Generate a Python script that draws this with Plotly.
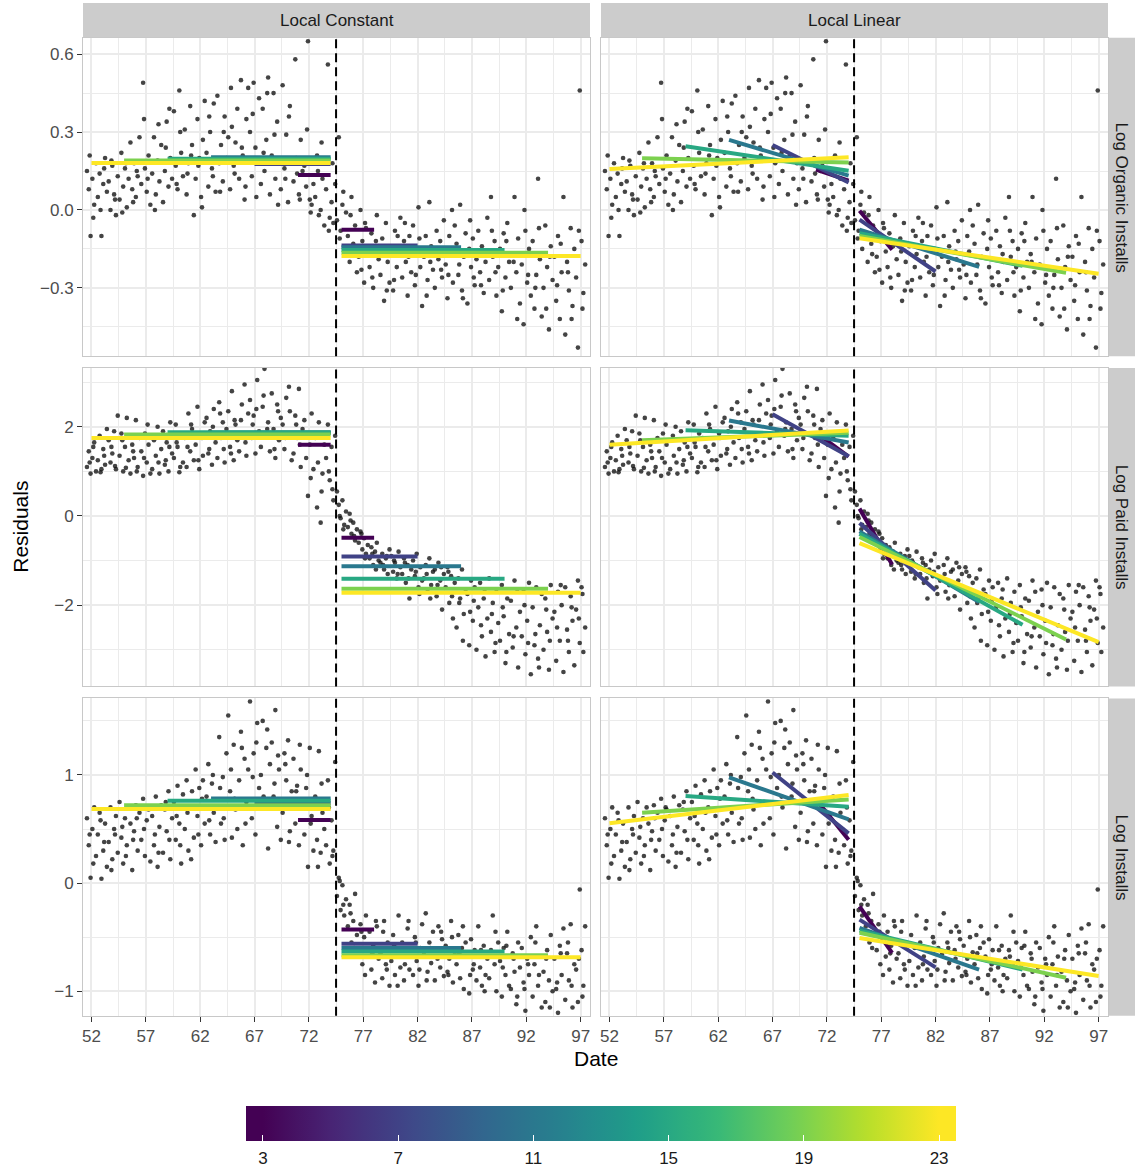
import numpy as np
import plotly.graph_objects as go
from plotly.colors import sample_colorscale

# ---------------- data ----------------
CUTOFF = 74.5
FIRST_DAY = 52
LAST_PRE_DAY = 74
FIRST_POST_DAY = 75
LAST_DAY = 97
DAYS = list(range(52, 98))
SLOTS_PER_DAY = 6          # main readings per day
EXTRA_OFFSETS = [1 / 3, 2 / 3]  # two additional readings per day
BANDWIDTHS = [3, 7, 11, 15, 19, 23]
CBAR_TICKS = [3, 7, 11, 15, 19, 23]

ROW_LABELS = ["Log Organic Installs", "Log Paid Installs", "Log Installs"]
COL_LABELS = ["Local Constant", "Local Linear"]

X_TICKS = [52, 57, 62, 67, 72, 77, 82, 87, 92, 97]
X_MINOR = [54.5, 59.5, 64.5, 69.5, 74.5, 79.5, 84.5, 89.5, 94.5]

ORG_TICKS = [-0.3, 0.0, 0.3, 0.6]
ORG_TICKTEXT = ["\u22120.3", "0.0", "0.3", "0.6"]
ORG_MINOR = [-0.45, -0.15, 0.15, 0.45]
PAID_TICKS = [-2, 0, 2]
PAID_TICKTEXT = ["\u22122", "0", "2"]
PAID_MINOR = [-3, -1, 1, 3]
INST_TICKS = [-1, 0, 1]
INST_TICKTEXT = ["\u22121", "0", "1"]
INST_MINOR = [-0.5, 0.5, 1.5]

# residuals, 6 readings per day (days 52..97)
ORGANIC = [
    0.15, 0.08, -0.10, 0.12, 0.02, 0.18,
    0.05, 0.14, -0.10, 0.10, 0.20, 0.07,
    0.11, 0.00, 0.17, 0.06, -0.02, 0.13,
    0.04, 0.22, 0.09, 0.16, 0.01, 0.12,
    0.26, 0.08, 0.18, 0.05, 0.13, 0.28,
    0.10, 0.49, 0.16, 0.07, 0.21, 0.02,
    0.14, 0.28, 0.06, 0.19, 0.11, 0.25,
    0.03, 0.15, 0.34, 0.09, 0.20, 0.12,
    0.38, 0.17, 0.08, 0.46, 0.22, 0.13,
    0.31, 0.06, 0.18, 0.40, 0.25, -0.02,
    0.12, 0.35, 0.20, 0.05, 0.27, 0.42,
    0.22, 0.09, 0.30, 0.16, 0.41, 0.07,
    0.44, 0.18, 0.25, 0.11, 0.36, 0.20,
    0.28, 0.08, 0.32, 0.17, 0.26, 0.39,
    0.12, 0.50, 0.21, 0.04, 0.35, 0.47,
    0.30, 0.13, 0.49, 0.24, 0.18, 0.43,
    0.10, 0.39, 0.15, 0.27, 0.51, 0.06,
    0.21, 0.45, 0.12, 0.34, 0.18, 0.08,
    0.48, 0.16, 0.29, 0.03, 0.40, 0.19,
    0.11, 0.58, 0.14, 0.06, 0.27, 0.15,
    0.17, 0.09, 0.65, 0.04, 0.02, 0.10,
    0.05, 0.21, -0.02, 0.00, 0.12, -0.06,
    0.08, 0.56, -0.03, 0.03, -0.05, 0.10,
    -0.04, 0.28, -0.08, 0.02, -0.15, -0.01,
    -0.10, -0.20, 0.05, -0.13, -0.06, -0.24,
    -0.18, 0.00, -0.12, -0.28, -0.07, -0.16,
    -0.22, -0.09, -0.30, -0.14, -0.02, -0.19,
    -0.25, -0.11, -0.35, -0.05, -0.20, -0.28,
    -0.14, -0.31, -0.08, -0.22, -0.17, -0.03,
    -0.26, -0.12, -0.20, -0.33, -0.10, -0.24,
    -0.06, -0.29, -0.15, 0.01, -0.22, -0.37,
    -0.18, -0.10, -0.27, 0.03, -0.14, -0.23,
    -0.30, -0.08, -0.19, -0.12, -0.26, -0.04,
    -0.21, -0.34, -0.10, -0.16, -0.28, -0.06,
    -0.13, -0.25, 0.02, -0.31, -0.18, -0.09,
    -0.36, -0.15, -0.22, -0.11, -0.29, -0.19,
    -0.08, -0.24, -0.14, -0.32, -0.20, -0.03,
    -0.27, 0.05, -0.18, -0.12, -0.33, -0.22,
    -0.15, -0.39, -0.09, -0.26, -0.05, -0.20,
    -0.30, -0.17, 0.05, -0.24, -0.11, -0.36,
    -0.21, -0.44, -0.08, -0.28, -0.15, -0.33,
    -0.12, -0.38, -0.25, 0.12, -0.19, -0.41,
    -0.30, -0.06, -0.22, -0.46, -0.14, -0.27,
    -0.18, -0.35, -0.10, -0.42, -0.24, 0.05,
    -0.48, -0.20, -0.31, -0.07, -0.37, -0.15,
    -0.26, -0.53, 0.46, -0.12, -0.32, -0.21,
]
ORGANIC_EXTRA = [
    0.21, -0.03, 0.00, 0.16, 0.19, 0.04, -0.01, 0.18, 0.03, 0.15,
    0.35, 0.12, 0.00, 0.33, 0.24, 0.39, 0.10, 0.30, 0.14, 0.21,
    0.17, 0.01, 0.36, 0.13, 0.07, 0.30, 0.47, 0.14, 0.24, 0.09,
    0.37, 0.05, 0.22, 0.45, 0.29, 0.02, 0.12, 0.36, 0.20, 0.04,
    0.31, -0.01, 0.15, 0.26, -0.08, 0.18,
    -0.11, 0.07, -0.02, -0.17, -0.23, -0.05, -0.26, -0.12, -0.16, -0.31,
    -0.27, -0.10, -0.05, -0.18, -0.25, -0.11, -0.33, -0.20, -0.16, -0.23,
    -0.25, 0.00, -0.21, -0.34, -0.04, -0.26, -0.29, -0.17, -0.08, -0.24,
    -0.31, -0.12, -0.20, -0.42, 0.00, -0.25, -0.30, -0.07, -0.38, -0.18,
    -0.29, -0.13, -0.24, -0.42, -0.08, -0.38,
]

PAID = [
    1.10, 1.45, 0.95, 1.30, 1.65, 1.00,
    1.25, 1.80, 1.05, 1.50, 1.15, 1.95,
    1.70, 1.20, 1.40, 1.90, 1.05, 2.25,
    1.35, 1.85, 1.00, 1.55, 2.20, 1.25,
    0.95, 1.60, 1.30, 2.15, 1.10, 1.75,
    1.45, 0.90, 1.85, 1.20, 1.60, 0.95,
    1.05, 1.70, 1.35, 2.00, 0.95, 1.50,
    1.90, 1.15, 1.65, 1.00, 2.10, 1.40,
    1.30, 2.05, 1.55, 0.98, 1.85, 1.20,
    1.75, 1.10, 2.30, 1.45, 1.95, 1.25,
    1.60, 2.45, 1.05, 1.85, 1.35, 2.10,
    2.20, 1.40, 1.90, 1.15, 2.40, 1.65,
    1.30, 2.55, 1.75, 2.10, 1.20, 1.95,
    2.35, 1.55, 2.80, 1.25, 2.05, 1.70,
    1.45, 2.15, 1.85, 2.95, 1.35, 2.30,
    2.60, 1.75, 2.25, 1.40, 3.05, 1.90,
    1.55, 2.45, 3.30, 1.80, 2.10, 1.45,
    2.75, 1.95, 1.30, 2.50, 1.70, 2.20,
    2.05, 1.50, 2.65, 1.85, 2.35, 1.25,
    1.40, 2.25, 1.75, 2.85, 1.10, 1.95,
    2.15, 1.30, 0.45, 1.60, 2.30, 1.05,
    1.75, 0.19, 2.10, -0.15, 0.95, 1.60,
    1.30, 2.05, 0.80, 1.55, 0.35, 1.80,
    0.55, 0.25, -0.05, 0.35, -0.20, 0.10,
    -0.25, 0.05, -0.40, -0.15, -0.55, -0.30,
    -0.60, -0.35, -0.75, -0.50, -0.85, -0.65,
    -0.95, -0.70, -1.10, -0.80, -0.60, -1.00,
    -1.05, -0.85, -1.20, -0.95, -1.30, -0.75,
    -0.90, -1.25, -1.05, -1.40, -0.80, -1.15,
    -1.30, -0.95, -1.50, -1.10, -1.85, -1.20,
    -1.00, -1.35, -0.85, -1.60, -1.15, -1.45,
    -1.40, -1.10, -1.70, -0.95, -1.55, -1.25,
    -1.20, -1.80, -1.05, -1.45, -2.10, -1.30,
    -1.60, -1.15, -1.95, -1.35, -2.30, -1.50,
    -2.50, -1.40, -1.85, -1.20, -2.20, -1.65,
    -1.75, -2.90, -1.45, -2.35, -1.60, -3.00,
    -2.05, -1.50, -2.70, -1.85, -3.15, -2.30,
    -1.40, -2.60, -1.95, -3.05, -1.70, -2.40,
    -2.80, -1.55, -2.25, -3.30, -1.85, -2.65,
    -1.90, -2.95, -1.45, -2.50, -3.40, -2.15,
    -2.70, -1.65, -3.10, -2.35, -1.50, -3.55,
    -2.05, -2.90, -1.60, -3.20, -2.45, -1.75,
    -3.00, -1.85, -2.60, -3.45, -1.55, -2.30,
    -2.15, -3.25, -1.70, -2.80, -2.00, -3.50,
    -1.60, -2.55, -3.05, -1.80, -2.35, -3.35,
    -2.10, -1.45, -2.85, -1.60, -3.05, -2.50,
]
PAID_EXTRA = [
    1.20, 1.55, 0.98, 1.35, 1.55, 1.12, 1.70, 1.08, 1.45, 1.00,
    1.30, 2.05, 1.80, 1.20, 1.25, 1.55, 1.65, 1.10, 1.55, 2.05,
    1.25, 1.75, 1.50, 2.00, 2.30, 1.50, 1.40, 2.15, 2.50, 1.65,
    2.05, 2.40, 2.70, 1.95, 1.50, 2.35, 1.75, 2.90, 2.05, 1.60,
    1.85, 0.85, 1.20, 0.55, 1.00, 0.60,
    0.00, -0.30, -0.10, -0.45, -0.40, -0.95, -0.85, -1.20, -1.10, -0.90,
    -1.00, -1.30, -1.05, -1.40, -1.25, -1.75, -1.30, -1.85, -1.55, -1.15,
    -1.25, -1.80, -1.95, -2.80, -2.15, -1.90, -2.45, -1.65, -2.20, -2.85,
    -2.05, -3.05, -2.70, -1.70, -2.00, -2.85, -2.65, -3.40, -2.10, -2.80,
    -2.50, -1.55, -2.80, -2.05, -2.30, -1.75,
]

INSTALLS = [
    0.60, 0.35, 0.05, 0.50, 0.70, 0.25,
    0.45, 0.65, 0.04, 0.30, 0.55, 0.15,
    0.38, 0.70, 0.22, 0.50, 0.62, 0.28,
    0.75, 0.42, 0.18, 0.60, 0.35, 0.70,
    0.55, 0.12, 0.48, 0.72, 0.30, 0.65,
    0.40, 0.78, 0.25, 0.58, 0.68, 0.20,
    0.62, 0.35, 0.80, 0.15, 0.52, 0.72,
    0.28, 0.68, 0.48, 0.85, 0.22, 0.60,
    0.75, 0.40, 0.90, 0.55, 0.18, 0.82,
    0.50, 0.95, 0.30, 0.70, 0.85, 0.42,
    1.05, 0.62, 0.88, 0.35, 0.95, 0.55,
    0.80, 1.10, 0.45, 0.92, 0.65, 0.38,
    0.70, 1.35, 0.55, 0.98, 0.40, 1.20,
    1.55, 0.85, 0.42, 1.28, 0.68, 0.50,
    0.95, 1.40, 0.35, 1.15, 0.75, 1.05,
    1.68, 0.60, 1.20, 0.45, 1.48, 0.88,
    1.00, 1.50, 0.70, 1.25, 0.32, 1.10,
    1.30, 0.80, 1.60, 0.52, 1.05, 0.40,
    0.65, 1.20, 0.95, 1.32, 0.48, 0.85,
    1.15, 0.55, 0.90, 0.35, 1.05, 0.72,
    0.45, 0.88, 0.15, 1.25, 0.62, 0.30,
    0.80, 0.40, 1.22, 0.28, 0.65, 0.50,
    0.35, 0.95, 0.18, 0.58, 0.30, 1.12,
    -0.12, 0.05, -0.25, -0.02, -0.30, -0.15,
    -0.40, -0.20, -0.55, -0.35, -0.10, -0.48,
    -0.62, -0.38, -0.75, -0.50, -0.30, -0.68,
    -0.45, -0.80, -0.58, -0.92, -0.40, -0.70,
    -0.65, -0.88, -0.35, -0.75, -0.55, -0.95,
    -0.72, -0.48, -0.85, -0.60, -0.30, -0.78,
    -0.55, -0.90, -0.68, -0.42, -0.80, -0.62,
    -0.85, -0.50, -0.72, -0.95, -0.60, -0.38,
    -0.66, -0.28, -0.82, -0.55, -0.74, -0.45,
    -0.90, -0.62, -0.40, -0.78, -0.52, -0.86,
    -0.58, -0.82, -0.70, -0.35, -0.92, -0.64,
    -0.75, -0.48, -0.88, -0.60, -0.98, -0.55,
    -0.68, -1.02, -0.52, -0.80, -0.62, -0.90,
    -0.40, -0.78, -0.95, -0.58, -0.85, -0.70,
    -0.88, -0.62, -0.30, -0.75, -1.00, -0.55,
    -0.72, -1.05, -0.60, -0.85, -0.45, -0.95,
    -0.98, -0.65, -0.82, -1.12, -0.55, -0.78,
    -0.60, -0.92, -1.18, -0.70, -0.85, -0.50,
    -1.05, -0.75, -0.40, -0.95, -0.68, -1.15,
    -0.82, -1.10, -0.62, -0.90, -0.48, -1.00,
    -0.70, -0.98, -1.20, -0.58, -0.85, -0.42,
    -1.08, -0.65, -0.90, -0.38, -1.15, -0.75,
    -0.80, -1.10, -0.06, -0.62, -0.95, -0.40,
]
INSTALLS_EXTRA = [
    0.45, 0.18, 0.58, 0.38, 0.12, 0.45, 0.52, 0.25, 0.40, 0.60,
    0.50, 0.70, 0.45, 0.28, 0.75, 0.40, 0.62, 0.35, 0.65, 0.22,
    0.45, 0.78, 0.58, 1.00, 0.88, 0.60, 1.05, 0.78, 1.25, 0.55,
    0.98, 1.30, 0.80, 1.42, 0.92, 1.18, 1.10, 0.38, 0.85, 1.28,
    1.00, 0.55, 0.15, 0.92, 0.70, 0.25,
    0.02, -0.20, -0.28, -0.60, -0.45, -0.85, -0.65, -0.35, -0.45, -0.80,
    -0.58, -0.95, -0.75, -0.35, -0.55, -0.80, -0.90, -0.60, -0.70, -0.45,
    -0.85, -0.50, -0.65, -0.40, -0.85, -0.75, -0.62, -1.00, -0.68, -0.45,
    -0.78, -0.58, -0.70, -1.05, -0.98, -0.75, -0.55, -0.85, -0.70, -1.15,
    -0.92, -0.65, -0.55, -0.95, -0.70, -1.05,
]

# local constant fits (per bandwidth)
ORG_LC_PRE = [0.135, 0.177, 0.203, 0.197, 0.190, 0.181]
ORG_LC_POST = [-0.076, -0.137, -0.144, -0.154, -0.165, -0.177]
PAID_LC_PRE = [1.60, 1.865, 1.87, 1.88, 1.83, 1.75]
PAID_LC_POST = [-0.49, -0.91, -1.13, -1.41, -1.63, -1.72]
INST_LC_PRE = [0.583, 0.740, 0.783, 0.762, 0.719, 0.685]
INST_LC_POST = [-0.43, -0.56, -0.60, -0.633, -0.668, -0.685]

# local linear fits: value at segment start / end
ORG_LL_PRE_START = [0.155, 0.250, 0.270, 0.245, 0.199, 0.158]
ORG_LL_PRE_END = [0.113, 0.106, 0.132, 0.151, 0.183, 0.203]
ORG_LL_POST_START = [-0.003, -0.037, -0.076, -0.090, -0.100, -0.109]
ORG_LL_POST_END = [-0.153, -0.237, -0.219, -0.215, -0.242, -0.246]
PAID_LL_PRE_START = [1.87, 2.28, 2.14, 1.925, 1.70, 1.60]
PAID_LL_PRE_END = [1.33, 1.34, 1.65, 1.80, 1.865, 1.92]
PAID_LL_POST_START = [0.165, -0.157, -0.345, -0.40, -0.47, -0.61]
PAID_LL_POST_END = [-1.09, -1.67, -1.93, -2.44, -2.77, -2.83]
INST_LL_PRE_START = [0.774, 1.023, 0.977, 0.805, 0.651, 0.553]
INST_LL_PRE_END = [0.40, 0.46, 0.59, 0.707, 0.774, 0.814]
INST_LL_POST_START = [-0.215, -0.338, -0.415, -0.44, -0.46, -0.507]
INST_LL_POST_END = [-0.645, -0.78, -0.80, -0.80, -0.875, -0.86]

# ---------------- layout constants ----------------
W, H = 1135, 1169
FONT = "Liberation Sans, Arial, Helvetica, sans-serif"
COL_PX = [(83, 590), (601, 1108)]
ROW_PX = [(38, 358), (370, 690), (702, 1021)]
STRIP_TOP = (3, 38)
STRIP_RIGHT = (1108, 1135)
X_RANGE = [51.22, 97.86]
Y_RANGES = [[-0.563, 0.663], [-3.824, 3.317], [-1.227, 1.708]]
GRID = "#EBEBEB"
BORDER = "#C8C8C8"
STRIP_FILL = "#CCCCCC"
CB_LEFT, CB_RIGHT, CB_TOP, CB_THICK = 246, 956, 1112, 35


def px_x(p):
    return p / W


def px_y(p):
    return 1 - p / H


x_main = [d - 0.5 + (i + 0.5) / SLOTS_PER_DAY for d in DAYS for i in range(SLOTS_PER_DAY)]
x_extra = [d - 0.5 + o for d in DAYS for o in EXTRA_OFFSETS]
x_points = x_main + x_extra

rows_data = [
    dict(points=ORGANIC + ORGANIC_EXTRA, lc_pre=ORG_LC_PRE, lc_post=ORG_LC_POST,
         ll=(ORG_LL_PRE_START, ORG_LL_PRE_END, ORG_LL_POST_START, ORG_LL_POST_END),
         ticks=ORG_TICKS, ticktext=ORG_TICKTEXT, minor=ORG_MINOR),
    dict(points=PAID + PAID_EXTRA, lc_pre=PAID_LC_PRE, lc_post=PAID_LC_POST,
         ll=(PAID_LL_PRE_START, PAID_LL_PRE_END, PAID_LL_POST_START, PAID_LL_POST_END),
         ticks=PAID_TICKS, ticktext=PAID_TICKTEXT, minor=PAID_MINOR),
    dict(points=INSTALLS + INSTALLS_EXTRA, lc_pre=INST_LC_PRE, lc_post=INST_LC_POST,
         ll=(INST_LL_PRE_START, INST_LL_PRE_END, INST_LL_POST_START, INST_LL_POST_END),
         ticks=INST_TICKS, ticktext=INST_TICKTEXT, minor=INST_MINOR),
]


def bw_color(h):
    t = (h - min(BANDWIDTHS)) / (max(BANDWIDTHS) - min(BANDWIDTHS))
    return sample_colorscale("Viridis", [t])[0]


def pre_x(h):
    return [max(LAST_PRE_DAY - h, FIRST_DAY), LAST_PRE_DAY]


def post_x(h):
    return [FIRST_POST_DAY, min(FIRST_POST_DAY + h, LAST_DAY)]


fig = go.Figure()
layout = {}
shapes = []
annotations = []

for r in range(3):
    rd = rows_data[r]
    for c in range(2):
        n = r * 2 + c + 1
        xa = "x" if n == 1 else f"x{n}"
        ya = "y" if n == 1 else f"y{n}"
        fig.add_trace(go.Scatter(
            x=x_points, y=rd["points"], mode="markers", xaxis=xa, yaxis=ya,
            marker=dict(size=4.6, color="rgba(15,15,15,0.78)", line=dict(width=0)),
            showlegend=False, hoverinfo="skip"))
        for k, h in enumerate(BANDWIDTHS):
            col = bw_color(h)
            if c == 0:
                segs = [(pre_x(h), [rd["lc_pre"][k]] * 2), (post_x(h), [rd["lc_post"][k]] * 2)]
            else:
                ps, pe, qs, qe = rd["ll"]
                segs = [(pre_x(h), [ps[k], pe[k]]), (post_x(h), [qs[k], qe[k]])]
            for sx, sy in segs:
                fig.add_trace(go.Scatter(
                    x=sx, y=sy, mode="lines", xaxis=xa, yaxis=ya,
                    line=dict(color=col, width=4), showlegend=False, hoverinfo="skip"))
        xkey = "xaxis" if n == 1 else f"xaxis{n}"
        ykey = "yaxis" if n == 1 else f"yaxis{n}"
        bottom = (r == 2)
        left = (c == 0)
        layout[xkey] = dict(
            domain=[px_x(COL_PX[c][0]), px_x(COL_PX[c][1])], anchor=ya,
            range=X_RANGE, tickmode="array", tickvals=X_TICKS,
            ticktext=[str(v) for v in X_TICKS],
            showticklabels=bottom, ticks="outside" if bottom else "",
            ticklen=5, tickwidth=1.2, tickcolor="#333333",
            tickfont=dict(size=17, color="#4D4D4D", family=FONT),
            showgrid=True, gridcolor=GRID, gridwidth=1.6,
            minor=dict(tickmode="array", tickvals=X_MINOR, showgrid=True,
                       gridcolor=GRID, gridwidth=0.8),
            zeroline=False, showline=True, mirror=True, linecolor=BORDER, linewidth=1)
        layout[ykey] = dict(
            domain=[px_y(ROW_PX[r][1]), px_y(ROW_PX[r][0])], anchor=xa,
            range=Y_RANGES[r], tickmode="array", tickvals=rd["ticks"],
            ticktext=rd["ticktext"], showticklabels=left,
            ticks="outside" if left else "", ticklen=5, tickwidth=1.2,
            tickcolor="#333333",
            tickfont=dict(size=17, color="#4D4D4D", family=FONT),
            showgrid=True, gridcolor=GRID, gridwidth=1.6,
            minor=dict(tickmode="array", tickvals=rd["minor"], showgrid=True,
                       gridcolor=GRID, gridwidth=0.8),
            zeroline=False, showline=True, mirror=True, linecolor=BORDER, linewidth=1)
        shapes.append(dict(type="line", xref=xa, yref=f"{ya} domain",
                           x0=CUTOFF, x1=CUTOFF, y0=0, y1=1, layer="above",
                           line=dict(color="black", width=2, dash="9px,5px")))

# strips
for c in range(2):
    shapes.append(dict(type="rect", xref="paper", yref="paper",
                       x0=px_x(COL_PX[c][0]), x1=px_x(COL_PX[c][1]),
                       y0=px_y(STRIP_TOP[1]), y1=px_y(STRIP_TOP[0]),
                       fillcolor=STRIP_FILL, line=dict(width=0), layer="below"))
    annotations.append(dict(text=COL_LABELS[c], xref="paper", yref="paper",
                            x=px_x(sum(COL_PX[c]) / 2), y=px_y(sum(STRIP_TOP) / 2),
                            showarrow=False, xanchor="center", yanchor="middle",
                            font=dict(size=17, color="#1A1A1A", family=FONT)))
for r in range(3):
    shapes.append(dict(type="rect", xref="paper", yref="paper",
                       x0=px_x(STRIP_RIGHT[0]), x1=px_x(STRIP_RIGHT[1]),
                       y0=px_y(ROW_PX[r][1]), y1=px_y(ROW_PX[r][0]),
                       fillcolor=STRIP_FILL, line=dict(width=0), layer="below"))
    annotations.append(dict(text=ROW_LABELS[r], xref="paper", yref="paper",
                            x=px_x(sum(STRIP_RIGHT) / 2), y=px_y(sum(ROW_PX[r]) / 2),
                            showarrow=False, textangle=90, xanchor="center", yanchor="middle",
                            font=dict(size=17, color="#1A1A1A", family=FONT)))

# axis titles
annotations.append(dict(text="Date", xref="paper", yref="paper",
                        x=px_x((COL_PX[0][0] + COL_PX[1][1]) / 2), y=px_y(1064),
                        showarrow=False, xanchor="center", yanchor="middle",
                        font=dict(size=21, color="black", family=FONT)))
annotations.append(dict(text="Residuals", xref="paper", yref="paper",
                        x=px_x(21), y=px_y((ROW_PX[0][0] + ROW_PX[2][1]) / 2),
                        showarrow=False, textangle=-90, xanchor="center", yanchor="middle",
                        font=dict(size=21, color="black", family=FONT)))

# colour bar (dummy traces sharing one scale)
CB_MIN, CB_MAX = 2.5, 23.5
stops = np.linspace(0, 1, 43)
cb_scale = []
for s in stops:
    v = CB_MIN + s * (CB_MAX - CB_MIN)
    t = min(max((v - min(BANDWIDTHS)) / (max(BANDWIDTHS) - min(BANDWIDTHS)), 0), 1)
    cb_scale.append([float(s), sample_colorscale("Viridis", [t])[0]])

cb_common = dict(orientation="h", x=px_x((CB_LEFT + CB_RIGHT) / 2), xanchor="center",
                 y=px_y(CB_TOP), yanchor="top", len=(CB_RIGHT - CB_LEFT) / W,
                 lenmode="fraction", thickness=CB_THICK, thicknessmode="pixels",
                 outlinewidth=0, xpad=0, ypad=0, tickmode="array", tickvals=CBAR_TICKS)

cb_variants = [
    # labels below the bar, pushed down by an invisible tick
    dict(ticks="outside", ticklen=3, tickcolor="rgba(0,0,0,0)",
         tickfont=dict(size=17, color="#1A1A1A", family=FONT)),
    # white tick marks at the bottom edge
    dict(ticks="inside", ticklen=6, tickcolor="white", tickwidth=1.2,
         showticklabels=False),
]
for extra in cb_variants:
    cb = dict(cb_common)
    cb.update(extra)
    fig.add_trace(go.Scatter(
        x=[None], y=[None], mode="markers", xaxis="x", yaxis="y", showlegend=False,
        marker=dict(color=[CBAR_TICKS[0]], cmin=CB_MIN, cmax=CB_MAX, colorscale=cb_scale,
                    showscale=True, colorbar=cb)))

fig.update_layout(
    width=W, height=H, autosize=False,
    margin=dict(l=0, r=0, t=0, b=0),
    paper_bgcolor="white", plot_bgcolor="white",
    font=dict(family=FONT),
    shapes=shapes, annotations=annotations, showlegend=False,
    **layout)

fig.write_html("out.html")
